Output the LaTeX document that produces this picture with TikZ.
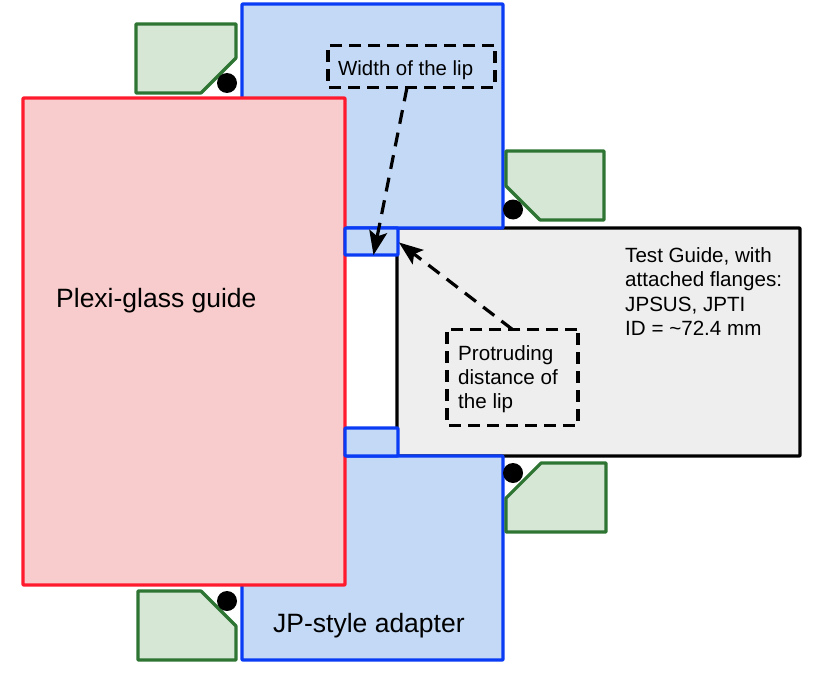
\documentclass[tikz,border=0pt]{standalone}
\usepackage{fontspec}
\setmainfont{Liberation Sans}
\usetikzlibrary{arrows.meta,calc}
\definecolor{bluefill}{HTML}{C3D9F5}
\definecolor{bluedraw}{HTML}{0A3CF5}
\definecolor{redfill}{HTML}{F8CCCC}
\definecolor{reddraw}{HTML}{FF1A2E}
\definecolor{greenfill}{HTML}{D6E8D5}
\definecolor{greendraw}{HTML}{2E7533}
\definecolor{grayfill}{HTML}{EEEEEE}
\tikzset{
  x=1pt,y=-1pt,
  box/.style={draw,rectangle,line width=3.2pt,outer sep=0pt,inner sep=0pt,anchor=north west,rounded corners=0.6pt,line join=round},
  adapter/.style={box,draw=bluedraw,fill=bluefill},
  plexi/.style={box,draw=reddraw,fill=redfill},
  guide/.style={box,draw=black,fill=grayfill},
  seal/.style={draw=greendraw,fill=greenfill,line width=3.2pt,line join=round},
  oring/.style={fill=black,draw=none},
  bigtext/.style={font=\fontsize{26.5pt}{32pt}\selectfont,inner sep=0pt,anchor=west},
  smalltext/.style={font=\fontsize{20.6pt}{24.3pt}\selectfont,align=left,inner sep=0pt,anchor=west},
  callout/.style={draw=black,line width=3.2pt,dash pattern=on 12pt off 7pt,rounded corners=0.6pt,outer sep=0pt,inner sep=0pt,anchor=north west},
  pointer/.style={draw=black,line width=3.2pt,dash pattern=on 14pt off 9pt,-{Stealth[length=24pt,width=18pt,inset=5pt]}}
}
\begin{document}
\begin{tikzpicture}
\useasboundingbox (0,0) rectangle (813,674);
% test guide
\node[guide,minimum width=403pt,minimum height=228pt] (tg) at (397,228) {};
% adapter
\node[adapter,minimum width=261pt,minimum height=224pt] (adtop) at (242,4) {};
\node[adapter,minimum width=261pt,minimum height=204pt] (adbot) at (242,456) {};
% seals
\draw[seal] (136,24) -- (236,24) -- (236,58) -- (201,93) -- (136,93) -- cycle;
\draw[seal] (506,151) -- (604,151) -- (604,220) -- (540,220) -- (506,186) -- cycle;
\draw[seal] (506,532) -- (506,498) -- (541,463) -- (606,463) -- (606,532) -- cycle;
\draw[seal] (138,591) -- (201,591) -- (236,626) -- (236,660) -- (138,660) -- cycle;
% o-rings
\node[oring,circle,minimum size=20pt,inner sep=0pt] (o1) at (227,83) {};
\node[oring,circle,minimum size=20pt,inner sep=0pt] (o2) at (513,209.5) {};
\node[oring,circle,minimum size=20pt,inner sep=0pt] (o3) at (513,473) {};
\node[oring,circle,minimum size=20pt,inner sep=0pt] (o4) at (227,601) {};
% plexi
\node[plexi,minimum width=322pt,minimum height=487pt] (pg) at (23,98) {};
% lips
\node[adapter,minimum width=53pt,minimum height=27pt] (lip1) at (345,228) {};
\node[adapter,minimum width=53pt,minimum height=28pt] (lip2) at (345,428) {};
% labels
\node[bigtext] (pgt) at (56,300.5) {Plexi-glass guide};
\node[bigtext] (adt) at (273,625.5) {JP-style adapter};
\node[smalltext] (tgt) at (625,291.5) {Test Guide, with\\attached flanges:\\JPSUS, JPTI\\ID = \char`\~72.4 mm};
% callouts
\node[callout,minimum width=167pt,minimum height=42pt] (wl) at (328,45.5) {};
\node[callout,minimum width=131pt,minimum height=96pt] (pd) at (447,329.5) {};
\node[smalltext,font=\fontsize{20.4pt}{24.3pt}\selectfont] (wlt) at (338,70) {Width of the lip};
\node[smalltext] (pdt) at (458,379) {Protruding\\distance of\\the lip};
\draw[pointer] ($(wl.south)+(-4.5,0)$) -- ($(lip1.south)+(2,0)$);
\draw[pointer] (pd.north) -- ($(lip1.east)+(1,1)$);
\end{tikzpicture}
\end{document}
